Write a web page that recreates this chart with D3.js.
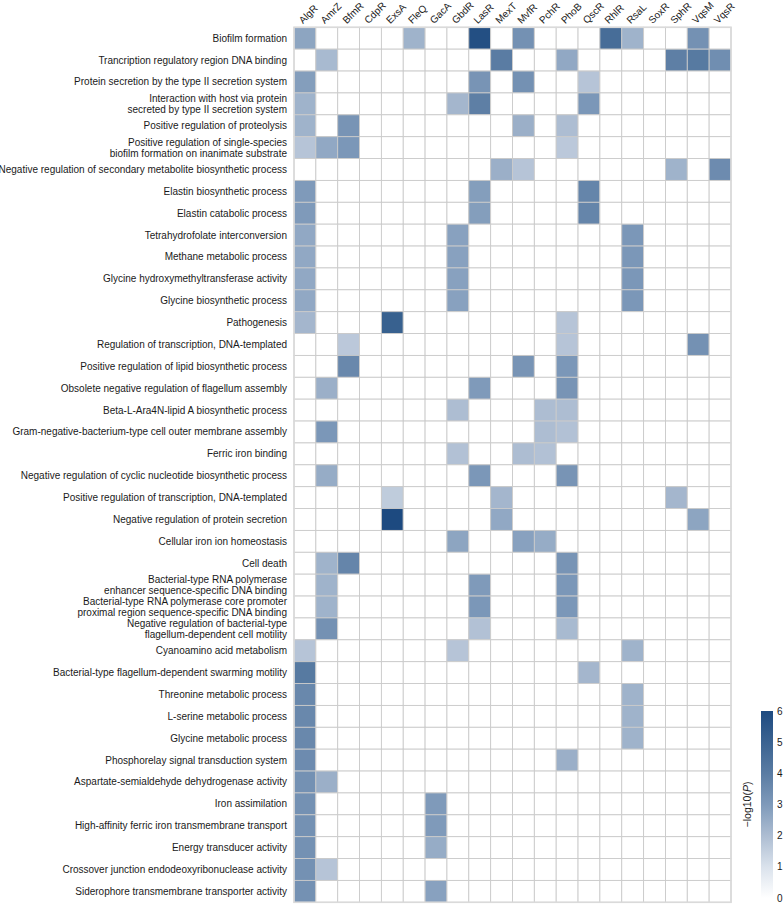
<!DOCTYPE html>
<html>
<head>
<meta charset="utf-8">
<script src="https://cdn.jsdelivr.net/npm/d3@7"></script>
<style>
  body { margin: 0; background: #fff; }
  text { font-family: "Liberation Sans", Arial, Helvetica, sans-serif; fill: #1a1a1a; }
</style>
</head>
<body>
<div class="container"></div>
<script>
// regulators along the top
var regulators = ["AlgR", "AmrZ", "BfmR", "CdpR", "ExsA", "FleQ", "GacA", "GbdR", "LasR", "MexT",
    "MvfR", "PchR", "PhoB", "QscR", "RhlR", "RsaL", "SoxR", "SphR", "VqsM", "VqsR"];

// GO terms down the side, "|" splits a label on two lines
var terms = [
    "Biofilm formation",
    "Trancription regulatory region DNA binding",
    "Protein secretion by the type II secretion system",
    "Interaction with host via protein|secreted by type II secretion system",
    "Positive regulation of proteolysis",
    "Positive regulation of single-species|biofilm formation on inanimate substrate",
    "Negative regulation of secondary metabolite biosynthetic process",
    "Elastin biosynthetic process",
    "Elastin catabolic process",
    "Tetrahydrofolate interconversion",
    "Methane metabolic process",
    "Glycine hydroxymethyltransferase activity",
    "Glycine biosynthetic process",
    "Pathogenesis",
    "Regulation of transcription, DNA-templated",
    "Positive regulation of lipid biosynthetic process",
    "Obsolete negative regulation of flagellum assembly",
    "Beta-L-Ara4N-lipid A biosynthetic process",
    "Gram-negative-bacterium-type cell outer membrane assembly",
    "Ferric iron binding",
    "Negative regulation of cyclic nucleotide biosynthetic process",
    "Positive regulation of transcription, DNA-templated",
    "Negative regulation of protein secretion",
    "Cellular iron ion homeostasis",
    "Cell death",
    "Bacterial-type RNA polymerase|enhancer sequence-specific DNA binding",
    "Bacterial-type RNA polymerase core promoter|proximal region sequence-specific DNA binding",
    "Negative regulation of bacterial-type|flagellum-dependent cell motility",
    "Cyanoamino acid metabolism",
    "Bacterial-type flagellum-dependent swarming motility",
    "Threonine metabolic process",
    "L-serine metabolic process",
    "Glycine metabolic process",
    "Phosphorelay signal transduction system",
    "Aspartate-semialdehyde dehydrogenase activity",
    "Iron assimilation",
    "High-affinity ferric iron transmembrane transport",
    "Energy transducer activity",
    "Crossover junction endodeoxyribonuclease activity",
    "Siderophore transmembrane transporter activity"
];

// enriched cells: [term index, regulator, -log10(P)]
var hits = [
    [0, "AlgR", 2.7], [0, "FleQ", 2.3], [0, "LasR", 5.8], [0, "MvfR", 3.3], [0, "RhlR", 4.6], [0, "RsaL", 2.3], [0, "VqsM", 3.3],
    [1, "AmrZ", 2.1], [1, "MexT", 4.0], [1, "PhoB", 2.6], [1, "SphR", 3.9], [1, "VqsM", 4.1], [1, "VqsR", 3.4],
    [2, "AlgR", 2.9], [2, "LasR", 3.2], [2, "MvfR", 3.3], [2, "QscR", 1.8],
    [3, "AlgR", 2.3], [3, "GbdR", 2.2], [3, "LasR", 3.9], [3, "QscR", 3.1],
    [4, "AlgR", 2.3], [4, "BfmR", 3.2], [4, "MvfR", 2.4], [4, "PhoB", 2.0],
    [5, "AlgR", 1.8], [5, "AmrZ", 2.6], [5, "BfmR", 3.1], [5, "PhoB", 1.7],
    [6, "MexT", 2.4], [6, "MvfR", 1.8], [6, "SphR", 2.3], [6, "VqsR", 3.5],
    [7, "AlgR", 3.0], [7, "LasR", 2.9], [7, "QscR", 3.7],
    [8, "AlgR", 3.0], [8, "LasR", 2.9], [8, "QscR", 3.7],
    [9, "AlgR", 2.6], [9, "GbdR", 2.8], [9, "RsaL", 3.1],
    [10, "AlgR", 2.6], [10, "GbdR", 2.8], [10, "RsaL", 3.1],
    [11, "AlgR", 2.6], [11, "GbdR", 2.8], [11, "RsaL", 3.1],
    [12, "AlgR", 2.6], [12, "GbdR", 2.8], [12, "RsaL", 3.1],
    [13, "AlgR", 2.2], [13, "ExsA", 5.1], [13, "PhoB", 1.8],
    [14, "BfmR", 1.7], [14, "PhoB", 1.8], [14, "VqsM", 3.3],
    [15, "BfmR", 3.6], [15, "MvfR", 3.2], [15, "PhoB", 3.1],
    [16, "AmrZ", 2.4], [16, "LasR", 3.0], [16, "PhoB", 3.2],
    [17, "GbdR", 2.0], [17, "PchR", 2.0], [17, "PhoB", 2.0],
    [18, "AmrZ", 3.1], [18, "PchR", 2.0], [18, "PhoB", 1.9],
    [19, "GbdR", 1.9], [19, "MvfR", 2.0], [19, "PchR", 1.9],
    [20, "AmrZ", 2.5], [20, "LasR", 3.1], [20, "PhoB", 3.2],
    [21, "ExsA", 1.6], [21, "MexT", 2.2], [21, "SphR", 2.2],
    [22, "ExsA", 6.0], [22, "MexT", 2.6], [22, "VqsM", 2.7],
    [23, "GbdR", 2.7], [23, "MvfR", 2.8], [23, "PchR", 2.5],
    [24, "AmrZ", 2.3], [24, "BfmR", 3.7], [24, "PhoB", 3.2],
    [25, "AmrZ", 2.3], [25, "LasR", 3.0], [25, "PhoB", 3.1],
    [26, "AmrZ", 2.3], [26, "LasR", 3.1], [26, "PhoB", 3.1],
    [27, "AmrZ", 3.3], [27, "LasR", 1.9], [27, "PhoB", 2.1],
    [28, "AlgR", 1.8], [28, "GbdR", 1.8], [28, "RsaL", 2.3],
    [29, "AlgR", 4.1], [29, "QscR", 2.2],
    [30, "AlgR", 3.6], [30, "RsaL", 2.3],
    [31, "AlgR", 3.6], [31, "RsaL", 2.3],
    [32, "AlgR", 3.6], [32, "RsaL", 2.3],
    [33, "AlgR", 3.5], [33, "PhoB", 2.4],
    [34, "AlgR", 3.3], [34, "AmrZ", 2.4],
    [35, "AlgR", 3.3], [35, "GacA", 3.0],
    [36, "AlgR", 3.3], [36, "GacA", 3.0],
    [37, "AlgR", 3.3], [37, "GacA", 2.5],
    [38, "AlgR", 3.3], [38, "AmrZ", 1.8],
    [39, "AlgR", 3.3], [39, "GacA", 2.8]
];

var colorTicks = [0, 1, 2, 3, 4, 5, 6];

var width = 783, height = 905;
// note: "top" is taken by window.top, so the grid edges get their own names
var gridLeft = 294, gridRight = 731, gridTop = 27.3, gridBottom = 902.3;
var lineGap = 11;

var svg = d3.select(".container").append("svg")
    .attr("width", width)
    .attr("height", height);

var x = d3.scaleBand().domain(regulators).range([gridLeft, gridRight]);
var y = d3.scaleBand().domain(d3.range(terms.length)).range([gridTop, gridBottom]);

var color = d3.scaleLinear()
    .domain([0, 1, 2, 3, 4, 5, 6])
    .range(["#ffffff", "#dae2ec", "#adbdd2", "#7f9aba", "#5a7ca3", "#3b6391", "#1d4a80"]);

// lookup of the enriched cells
var cellValue = {};
hits.forEach(function (h) { cellValue[h[0] + "_" + h[1]] = h[2]; });

// all cells, white where nothing was enriched
var cells = [];
terms.forEach(function (t, i) {
    regulators.forEach(function (r) {
        cells.push({ row: i, reg: r, v: cellValue[i + "_" + r] || 0 });
    });
});

svg.append("g").selectAll("rect")
    .data(cells)
    .enter()
    .append("rect")
    .attr("x", function (d) { return x(d.reg); })
    .attr("y", function (d) { return y(d.row); })
    .attr("width", x.bandwidth())
    .attr("height", y.bandwidth())
    .attr("fill", function (d) { return color(d.v); })
    .attr("stroke", "#cacaca")
    .attr("stroke-width", 0.9);

// frame round the grid
svg.append("rect")
    .attr("x", gridLeft)
    .attr("y", gridTop)
    .attr("width", gridRight - gridLeft)
    .attr("height", gridBottom - gridTop)
    .attr("fill", "none")
    .attr("stroke", "#dadada")
    .attr("stroke-width", 1.6);

// column labels, slanted
svg.append("g").selectAll("text")
    .data(regulators)
    .enter()
    .append("text")
    .attr("transform", function (d) {
        return "translate(" + (x(d) + x.bandwidth() / 2 - 2) + "," + (gridTop - 3) + ") rotate(-45)";
    })
    .style("font-size", "10px")
    .text(function (d) { return d; });

// row labels
var rowLabels = svg.append("g").selectAll("text")
    .data(terms)
    .enter()
    .append("text")
    .attr("x", gridLeft - 7)
    .attr("y", function (d, i) { return y(i) + y.bandwidth() / 2; })
    .style("font-size", "10px")
    .style("text-anchor", "end");

rowLabels.each(function (d) {
    var lines = d.split("|");
    var el = d3.select(this);
    lines.forEach(function (line, k) {
        var off = -(lines.length - 1) / 2 * lineGap;
        el.append("tspan")
            .attr("x", gridLeft - 7)
            .attr("dy", k == 0 ? (off + 3.5) + "px" : lineGap + "px")
            .text(line);
    });
});

// colour bar
var barX = 761, barW = 12, barTop = 711, barBottom = 898;
var defs = svg.append("defs");
var grad = defs.append("linearGradient")
    .attr("id", "bar")
    .attr("x1", "0").attr("y1", "1")
    .attr("x2", "0").attr("y2", "0");
colorTicks.forEach(function (t) {
    grad.append("stop")
        .attr("offset", (t / 6 * 100) + "%")
        .attr("stop-color", color(t));
});

svg.append("rect")
    .attr("x", barX)
    .attr("y", barTop)
    .attr("width", barW)
    .attr("height", barBottom - barTop)
    .attr("fill", "url(#bar)");

var barScale = d3.scaleLinear().domain([0, 6]).range([barBottom, barTop]);

svg.append("g").selectAll("text")
    .data(colorTicks)
    .enter()
    .append("text")
    .attr("x", barX + barW + 4)
    .attr("y", function (d) { return barScale(d) + 3.5; })
    .style("font-size", "10px")
    .text(function (d) { return d; });

var barTitle = svg.append("text")
    .attr("transform", "translate(" + 751 + "," + ((barTop + barBottom) / 2) + ") rotate(-90)")
    .style("font-size", "10.5px")
    .style("text-anchor", "middle");
barTitle.append("tspan").text("\u2212log10(");
barTitle.append("tspan").style("font-style", "italic").text("P");
barTitle.append("tspan").text(")");
</script>
</body>
</html>
